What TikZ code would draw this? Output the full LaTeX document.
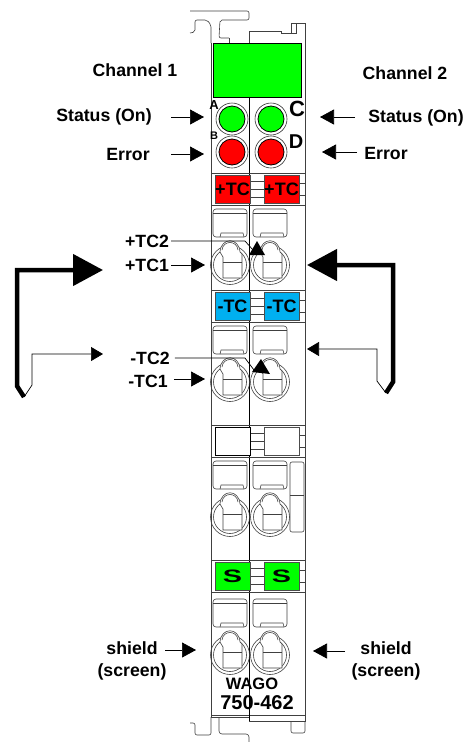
\documentclass[tikz,border=0pt]{standalone}
\usepackage{fontspec}
\setmainfont{Liberation Sans}
\usetikzlibrary{arrows.meta, positioning}
\definecolor{tcblue}{RGB}{0,176,240}

\begin{document}
\begin{tikzpicture}[
  x=1pt, y=-1pt,
  label/.style={font=\fontsize{17.7}{22}\selectfont\bfseries, align=center, inner sep=0pt},
  led/.style={circle, draw=black, line width=0.8pt, minimum size=26pt, inner sep=0pt},
  ledring/.style={circle, draw=black!80, line width=0.6pt, minimum size=32pt, inner sep=0pt},
  tcbox/.style={rectangle, draw=black!70, line width=0.6pt, minimum width=35pt, minimum height=28pt, inner sep=0pt, font=\fontsize{18}{20}\selectfont\bfseries},
  part/.style={line width=0.6pt, draw=black!75},
  arrow/.style={line width=0.7pt, -{Triangle[length=14pt, width=15pt]}},
  looparrow/.style={line width=0.7pt, -{Triangle[length=12pt, width=14pt]}},
  bigarrow/.style={line width=4.5pt, -{Triangle[length=30pt, width=31pt]}, line join=miter}
]
  \useasboundingbox (0,0) rectangle (464,742);

  % Rail clips
  \draw[part, rounded corners=2pt] (190,11) -- (249,11) -- (249,20) -- (220,20) -- (219,38) -- (229,38);
  \draw[part, rounded corners=2pt] (190,33) -- (195,32) -- (195,20) -- (207,20) -- (211,25) -- (211,43);
  \draw[part] (229,38) -- (229,43);
  \draw[part] (249,43) -- (249,31) -- (281,31) -- (281,33) -- (291,33) -- (291,23) -- (305,23) -- (305,43);
  \draw[part] (296,23) -- (296,33) -- (291,33);
  \draw[part, rounded corners=2pt] (190,723) -- (195,723) -- (195,735) -- (211,735) -- (211,717);
  \draw[part, rounded corners=3pt] (219,717) -- (219,734) -- (249,734) -- (249,742);
  \draw[part, rounded corners=2pt] (291,721) -- (291,733) -- (305,733) -- (305,721);

  % Housing
  \draw[part] (211,43) -- (211,717) -- (249,717);
  \draw[part] (305,43) -- (305,721) -- (249,721);
  \draw[part] (211,715) -- (305,715);
  \draw[line width=0.9pt] (249.5,97) -- (249.5,721);

  % Marking strip
  \node[rectangle, draw=black, line width=1pt, fill=green, minimum width=88pt, minimum height=54pt, inner sep=0pt] (strip) at (257,70) {};

  % LEDs
  \node[ledring] at (232,119) {};
  \node[ledring] at (271,119) {};
  \node[ledring] at (232,152) {};
  \node[ledring] at (271,152) {};
  \node[led, fill=green] (ledA) at (232,119) {};
  \node[led, fill=green] (ledC) at (271,119) {};
  \node[led, fill=red] (ledB) at (232,152) {};
  \node[led, fill=red] (ledD) at (271,152) {};
  \node[font=\fontsize{13}{13}\selectfont\bfseries, inner sep=0pt] (letterA) at (214,105) {A};
  \node[font=\fontsize{11}{11}\selectfont\bfseries, inner sep=0pt] (letterB) at (214,136) {B};
  \node[font=\fontsize{22}{22}\selectfont\bfseries, inner sep=0pt] (letterC) at (297,109) {C};
  \node[font=\fontsize{20}{20}\selectfont\bfseries, inner sep=0pt] (letterD) at (296,142) {D};

  % Separator rows
  \foreach \yrow in {189,306,441,576} {
    \draw[part] (211,\yrow-16) -- (305,\yrow-16);
    \draw[part] (211,\yrow+16) -- (305,\yrow+16);
    \draw[part] (250,\yrow-8) -- (264,\yrow-8);
    \draw[part] (250,\yrow) -- (264,\yrow);
    \draw[part] (250,\yrow+8) -- (264,\yrow+8);
    \draw[part] (299,\yrow-6) -- (305,\yrow-6);
    \draw[part] (299,\yrow+6) -- (305,\yrow+6);
  }

  \node[tcbox, fill=red] (tcpL) at (232.5,189) {+TC};
  \node[tcbox, fill=red] (tcpR) at (281.5,189) {+TC};
  \node[tcbox, fill=tcblue] (tcnL) at (232.5,306) {-TC};
  \node[tcbox, fill=tcblue] (tcnR) at (281.5,306) {-TC};
  \node[tcbox, draw=black, line width=1pt, fill=white] (blankL) at (232.5,441) {};
  \node[tcbox, fill=white] (blankR) at (281.5,441) {};
  \node[tcbox, fill=green] (shL) at (232.5,576) {\scalebox{1.6}[1]{S}};
  \node[tcbox, fill=green] (shR) at (281.5,576) {\scalebox{1.6}[1]{S}};

  % Terminals
  \foreach \cx/\cy in {230/265,270/265,230/382,270/382,230/517,270/517,230/655,270/655} {
    \draw[part, rounded corners=3pt] (\cx-17,\cy-56) rectangle (\cx+17,\cy-28);
    \draw[part] (\cx-17,\cy-52) -- (\cx+17,\cy-52);
    \draw[part] (\cx-10,\cy-28) -- (\cx-9,\cy-32) -- (\cx+13,\cy-32) -- (\cx+14,\cy-28);
    \draw[part] (\cx,\cy) circle (19.5pt);
    \draw[part] (\cx,\cy) circle (16.5pt);
    \draw[part, fill=white] (\cx-10,\cy-13) .. controls (\cx-9,\cy-28) and (\cx+9,\cy-28) .. (\cx+10,\cy-13) -- (\cx+12,\cy-11) -- (\cx+12,\cy+13) -- (\cx-7,\cy+13) -- (\cx-7,\cy-8) -- cycle;
    \draw[part] (\cx-8,\cy-15) .. controls (\cx-7,\cy-25) and (\cx+7,\cy-25) .. (\cx+8,\cy-15);
    \draw[part] (\cx-7,\cy-3) -- (\cx+12,\cy-3);
  }
  \draw[part, rounded corners=2pt] (290,462) rectangle (304,532);
  \draw[part] (290,495) -- (304,495);

  % Type
  \node[font=\fontsize{16.5}{18}\selectfont\bfseries, inner sep=0pt] (wago) at (252,684) {WAGO};
  \node[font=\fontsize{20}{22}\selectfont\bfseries, inner sep=0pt] (type) at (257,703) {750-462};

  % Labels
  \node[label] (chan1) at (135,70) {Channel 1};
  \node[label] (chan2) at (405,73) {Channel 2};
  \node[label] (status1) at (104,117) {Status (On)};
  \node[label] (status2) at (416,118) {Status (On)};
  \node[label] (error1) at (128,154) {Error};
  \node[label] (error2) at (386,153) {Error};
  \node[label] (tcp2) at (147,241) {+TC2};
  \node[label] (tcp1) at (147,265) {+TC1};
  \node[label] (tcn2) at (150,358) {-TC2};
  \node[label] (tcn1) at (148,381) {-TC1};
  \node[label] (shield1) at (132,661) {shield\\(screen)};
  \node[label] (shield2) at (386,661) {shield\\(screen)};

  \coordinate (statusin1) at (204,117);
  \coordinate (errorin1) at (204,154);
  \coordinate (statusin2) at (320,117);
  \coordinate (errorin2) at (322,152);
  \coordinate (tcpin1) at (205,265);
  \coordinate (tcnin1) at (205,379);
  \coordinate (shieldin1) at (196,650);
  \coordinate (shieldin2) at (313,651);

  \draw[arrow] (171,117) -- (statusin1);
  \draw[arrow] (171,154) -- (errorin1);
  \draw[arrow] (355,117) -- (statusin2);
  \draw[arrow] (357,152) -- (errorin2);
  \draw[arrow] (tcp1.east) ++(2,0) -- (tcpin1);
  \draw[arrow] (tcn1.east) ++(6,-2) -- (tcnin1);
  \draw[arrow] (165,650) -- (shieldin1);
  \draw[arrow] (345,651) -- (shieldin2);

  % Leaders to the upper openings
  \draw[line width=0.7pt] (tcp2.east) ++(2,0) -- (245,241) -- (253,250);
  \fill (257,241) -- (265,255) -- (249,255) -- cycle;
  \draw[line width=0.7pt] (tcn2.east) ++(5,0) -- (245,358) -- (254,370);
  \fill (261,359) -- (270,374) -- (252,372) -- cycle;

  % Thermocouple loops
  \coordinate (loopL) at (103,270);
  \coordinate (loopLb) at (103,354);
  \coordinate (loopR) at (307,265);
  \coordinate (loopRb) at (307,349);
  \draw[bigarrow] (24,397) -- (17,386) -- (17,270) -- (loopL);
  \draw[looparrow] (24,397) -- (32,385) -- (32,354) -- (loopLb);
  \draw[bigarrow] (386,393) -- (393,382) -- (393,265) -- (loopR);
  \draw[looparrow] (386,393) -- (377,381) -- (377,349) -- (loopRb);
\end{tikzpicture}
\end{document}
